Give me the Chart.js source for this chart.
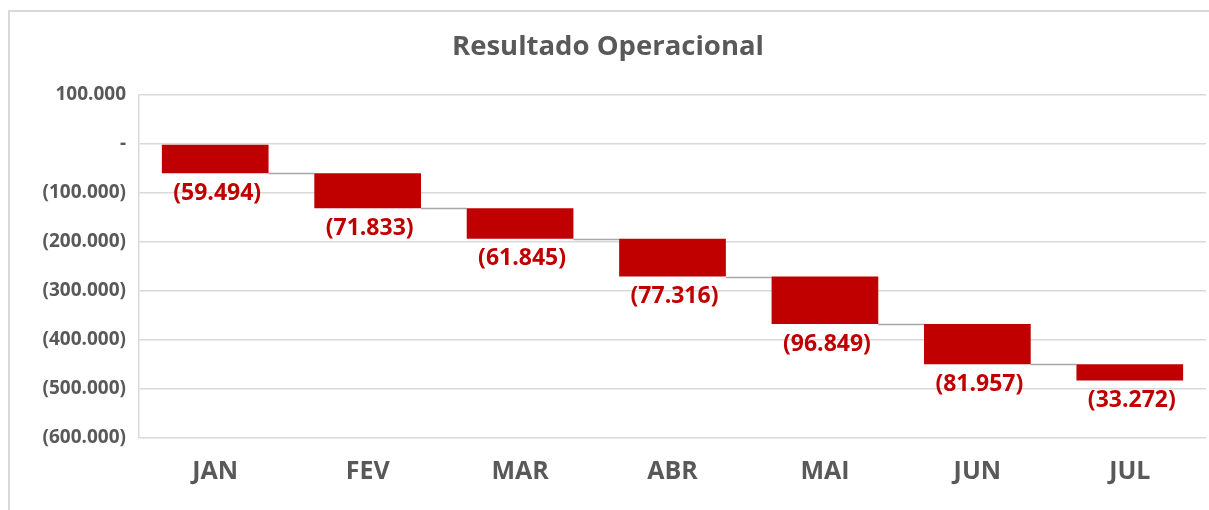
<!DOCTYPE html>
<html>
<head>
<meta charset="utf-8">
<script src="https://cdn.jsdelivr.net/npm/chart.js@4.4.0/dist/chart.umd.min.js"></script>
<style>
    body { margin: 0; background: #ffffff; }
    #box {
        position: absolute;
        left: 8px;
        top: 10px;
        width: 1210px;
        height: 510px;
        border: 2px solid #d9d9d9;
        box-sizing: border-box;
    }
    #canvasWrap {
        position: absolute;
        left: 0;
        top: 0;
        width: 1199px;
        height: 498px;
    }
</style>
</head>
<body>
<div id="box">
    <div id="canvasWrap"><canvas id="resultChart"></canvas></div>
</div>
<script>
// Monthly results (deltas) for the waterfall
const months = ['JAN', 'FEV', 'MAR', 'ABR', 'MAI', 'JUN', 'JUL'];
const monthlyResult = [-59494, -71833, -61845, -77316, -96849, -81957, -33272];
const yTicks = [100000, 0, -100000, -200000, -300000, -400000, -500000, -600000];

const barColor = '#c00000';
const textGray = '#595959';
const fontFamily = "'Open Sans', 'Noto Sans', sans-serif";

// Format like Excel pt-BR accounting: (59.494), "-" for zero
function formatBR(value) {
    if (value === 0) return '-';
    const txt = Math.abs(value).toString().replace(/\B(?=(\d{3})+(?!\d))/g, '.');
    return value < 0 ? '(' + txt + ')' : txt;
}

// Build floating bars [start, end] from cumulative totals
const ranges = [];
let running = 0;
monthlyResult.forEach(v => {
    ranges.push([running, running + v]);
    running += v;
});

// Gray connector lines between bars
const connectorPlugin = {
    id: 'connectors',
    beforeDatasetsDraw(chart) {
        const ctx = chart.ctx;
        const meta = chart.getDatasetMeta(0);
        const yScale = chart.scales.y;
        ctx.save();
        ctx.strokeStyle = '#a6a6a6';
        ctx.lineWidth = 1.5;
        for (let i = 0; i < meta.data.length - 1; i++) {
            const bar = meta.data[i];
            const next = meta.data[i + 1];
            const y = Math.round(yScale.getPixelForValue(ranges[i][1])) + 0.5;
            ctx.beginPath();
            ctx.moveTo(bar.x + bar.width / 2, y);
            ctx.lineTo(next.x - next.width / 2, y);
            ctx.stroke();
        }
        ctx.restore();
    }
};

// Value labels under each bar
const labelPlugin = {
    id: 'valueLabels',
    afterDatasetsDraw(chart) {
        const ctx = chart.ctx;
        const meta = chart.getDatasetMeta(0);
        const yScale = chart.scales.y;
        ctx.save();
        ctx.fillStyle = barColor;
        ctx.font = 'bold 23px ' + fontFamily;
        ctx.textAlign = 'center';
        ctx.textBaseline = 'middle';
        meta.data.forEach((bar, i) => {
            const bottom = yScale.getPixelForValue(Math.min(ranges[i][0], ranges[i][1]));
            ctx.fillText(formatBR(monthlyResult[i]), bar.x + 2, bottom + 20);
        });
        ctx.restore();
    }
};

const ctx = document.getElementById('resultChart').getContext('2d');
new Chart(ctx, {
    type: 'bar',
    data: {
        labels: months,
        datasets: [{
            data: ranges,
            backgroundColor: barColor,
            borderWidth: 0,
            barPercentage: 0.7,
            categoryPercentage: 1.0
        }]
    },
    options: {
        responsive: true,
        maintainAspectRatio: false,
        animation: false,
        layout: {
            padding: { top: 0, right: 3, bottom: 4, left: 0 }
        },
        plugins: {
            legend: { display: false },
            tooltip: { enabled: false },
            title: {
                display: true,
                text: 'Resultado Operacional',
                color: textGray,
                font: { family: fontFamily, size: 27.5, weight: 'bold' },
                padding: { top: 19, bottom: 31 }
            }
        },
        scales: {
            x: {
                grid: { display: false, drawTicks: false },
                border: { display: false },
                ticks: {
                    color: textGray,
                    padding: 19,
                    font: { family: fontFamily, size: 25, weight: 'bold' }
                }
            },
            y: {
                min: -600000,
                max: 100000,
                afterFit(scale) { scale.width = 129; },
                afterBuildTicks(scale) {
                    scale.ticks = yTicks.map(v => ({ value: v }));
                },
                grid: { color: '#d9d9d9', lineWidth: 1.5, drawTicks: false },
                border: { display: true, color: '#d9d9d9', width: 1.5 },
                ticks: {
                    color: textGray,
                    padding: 13,
                    font: { family: fontFamily, size: 19, weight: 'bold' },
                    callback: value => formatBR(value)
                }
            }
        }
    },
    plugins: [connectorPlugin, labelPlugin]
});
</script>
</body>
</html>
